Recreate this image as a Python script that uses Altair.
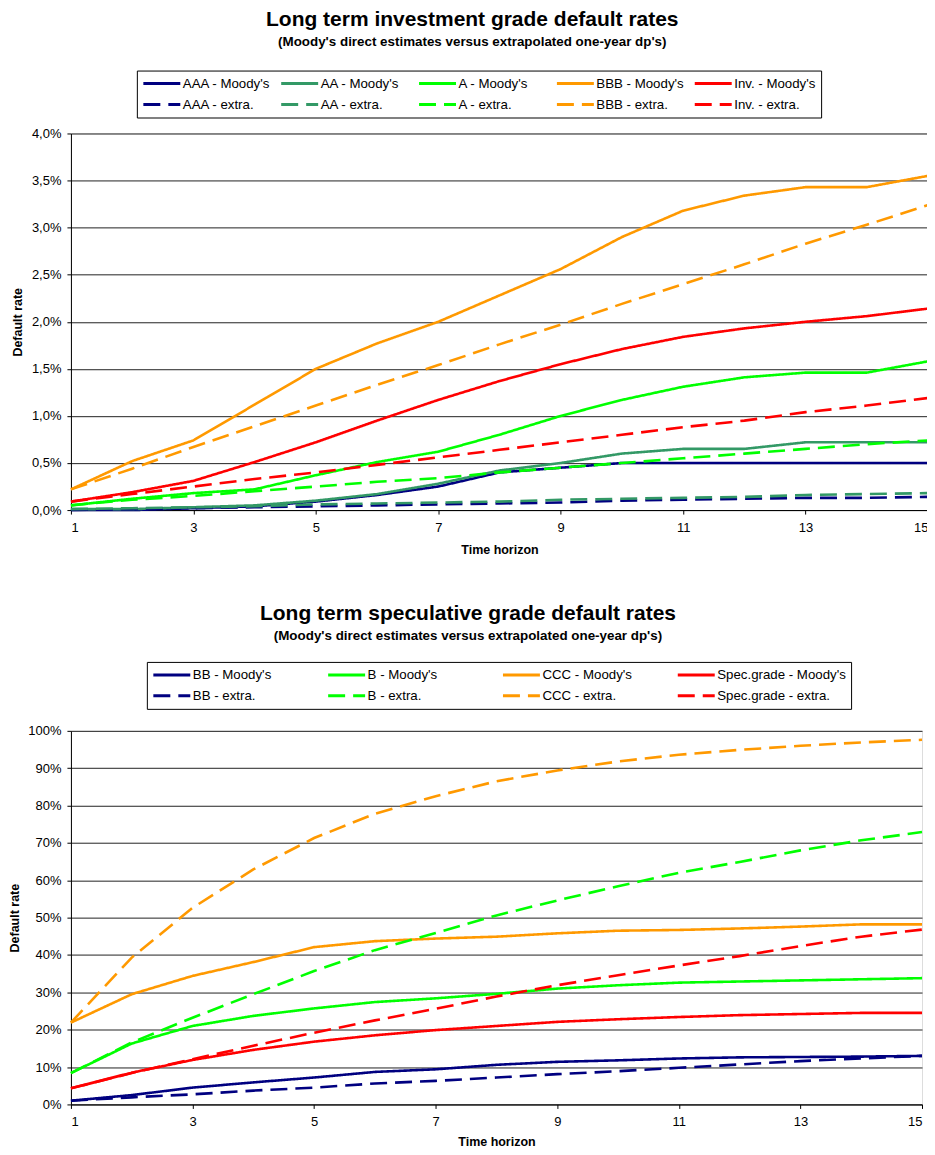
import altair as alt
import pandas as pd

years = list(range(1, 16))

# ---- Investment grade (values in %) ----
inv_series = ["AAA - Moody's", "AA - Moody's", "A - Moody's", "BBB - Moody's", "Inv. - Moody's",
              "AAA - extra.", "AA - extra.", "A - extra.", "BBB - extra.", "Inv. - extra."]
aaa_m = [0.00, 0.00, 0.02, 0.04, 0.09, 0.16, 0.25, 0.40, 0.45, 0.50, 0.50, 0.50, 0.50, 0.50, 0.50]
aa_m = [0.01, 0.01, 0.03, 0.05, 0.10, 0.17, 0.28, 0.42, 0.50, 0.60, 0.65, 0.65, 0.72, 0.72, 0.72]
a_m = [0.05, 0.12, 0.18, 0.22, 0.37, 0.51, 0.62, 0.80, 1.00, 1.17, 1.31, 1.41, 1.46, 1.46, 1.58]
bbb_m = [0.22, 0.52, 0.74, 1.12, 1.50, 1.77, 2.00, 2.28, 2.56, 2.90, 3.18, 3.34, 3.43, 3.43, 3.55]
inv_m = [0.09, 0.19, 0.31, 0.51, 0.72, 0.95, 1.17, 1.37, 1.55, 1.71, 1.84, 1.93, 2.00, 2.06, 2.14]
aaa_e = [0.00, 0.01, 0.02, 0.03, 0.04, 0.05, 0.06, 0.07, 0.08, 0.10, 0.11, 0.12, 0.13, 0.13, 0.14]
aa_e = [0.01, 0.02, 0.03, 0.04, 0.06, 0.07, 0.08, 0.09, 0.11, 0.12, 0.13, 0.14, 0.16, 0.17, 0.18]
a_e = [0.05, 0.11, 0.15, 0.20, 0.25, 0.30, 0.34, 0.40, 0.45, 0.50, 0.55, 0.60, 0.65, 0.70, 0.74]
bbb_e = [0.22, 0.44, 0.67, 0.89, 1.11, 1.33, 1.54, 1.76, 1.97, 2.19, 2.40, 2.61, 2.83, 3.03, 3.24]
inv_e = [0.09, 0.17, 0.25, 0.33, 0.40, 0.48, 0.56, 0.64, 0.72, 0.80, 0.88, 0.95, 1.04, 1.11, 1.19]
inv_values = [aaa_m, aa_m, a_m, bbb_m, inv_m, aaa_e, aa_e, a_e, bbb_e, inv_e]

# ---- Speculative grade (values in %) ----
spec_series = ["BB - Moody's", "B - Moody's", "CCC - Moody's", "Spec.grade - Moody's",
               "BB - extra.", "B - extra.", "CCC - extra.", "Spec.grade - extra."]
bb_m = [1.0, 2.5, 4.5, 5.9, 7.2, 8.7, 9.4, 10.6, 11.4, 11.8, 12.3, 12.6, 12.7, 12.8, 13.0]
b_m = [8.4, 16.3, 21.0, 23.7, 25.7, 27.4, 28.4, 29.6, 31.0, 31.9, 32.6, 32.9, 33.2, 33.5, 33.8]
ccc_m = [21.9, 29.5, 34.4, 38.1, 42.1, 43.7, 44.4, 44.9, 45.8, 46.5, 46.7, 47.1, 47.6, 48.2, 48.2]
spec_m = [4.3, 8.5, 11.9, 14.6, 16.8, 18.5, 19.9, 21.0, 22.1, 22.8, 23.4, 23.9, 24.2, 24.5, 24.5]
bb_e = [1.0, 1.9, 2.7, 3.7, 4.5, 5.6, 6.3, 7.2, 8.1, 8.9, 9.8, 10.7, 11.6, 12.3, 13.0]
b_e = [8.4, 16.6, 23.2, 29.5, 35.7, 41.3, 45.9, 50.6, 54.6, 58.4, 62.0, 64.9, 68.0, 70.7, 72.9]
ccc_e = [21.9, 39.3, 52.6, 62.9, 71.3, 77.8, 82.5, 86.5, 89.4, 91.8, 93.6, 94.9, 96.0, 96.9, 97.6]
spec_e = [4.3, 8.4, 12.1, 15.7, 19.2, 22.5, 25.6, 28.9, 31.9, 34.6, 37.2, 39.7, 42.4, 44.9, 46.8]
spec_values = [bb_m, b_m, ccc_m, spec_m, bb_e, b_e, ccc_e, spec_e]

inv_colors = ["#000080", "#339966", "#00FF00", "#FF9900", "#FF0000"] * 2
spec_colors = ["#000080", "#00FF00", "#FF9900", "#FF0000"] * 2
SOLID = [1, 0]
DASH = [17, 8]


def long_df(names, values):
    rows = []
    for n, vals in zip(names, values):
        for yr, v in zip(years, vals):
            rows.append({"year": yr, "rate": v / 100.0, "series": n})
    return pd.DataFrame(rows)


FONT = "Liberation Sans"
AX = dict(labelFont=FONT, titleFont=FONT, labelFontSize=13, titleFontSize=12.5, titleFontWeight="bold",
          labelColor="#000", titleColor="#000", domainColor="#000", tickColor="#000")


def make_panel(df, names, colors, ncols, ymax, ystep, yfmt_expr, w, h, lx, ly, colpad, xtpad, ytpad,
               toffset, title, subtitle):
    dashes = [SOLID] * ncols + [DASH] * ncols
    legend = alt.Legend(
        title=None, orient="none", legendX=lx, legendY=ly, direction="horizontal",
        columns=ncols, gridAlign="all", symbolType="stroke", symbolSize=1369, clipHeight=16,
        symbolStrokeWidth=3, labelFont=FONT, labelFontSize=13.3, labelColor="#000",
        strokeColor="#000", padding=5, rowPadding=5, columnPadding=colpad, labelOffset=1,
        fillColor="#fff", labelLimit=300,
    )
    yticks = [round(i * ystep, 6) for i in range(int(round(ymax / ystep)) + 1)]
    return alt.Chart(df).mark_line(strokeWidth=2.6).encode(
        x=alt.X("year:Q", scale=alt.Scale(domain=[1, 15], nice=False, zero=False),
                axis=alt.Axis(values=[1, 3, 5, 7, 9, 11, 13, 15], grid=False, title="Time horizon",
                              tickSize=4, labelPadding=7, titlePadding=xtpad, **AX)),
        y=alt.Y("rate:Q", scale=alt.Scale(domain=[0, ymax], nice=False),
                axis=alt.Axis(values=yticks, labelExpr=yfmt_expr, title="Default rate",
                              tickSize=4, labelPadding=6, titlePadding=ytpad,
                              gridColor="#222", gridWidth=1, gridOpacity=1, **AX)),
        color=alt.Color("series:N", scale=alt.Scale(domain=names, range=colors), legend=legend),
        strokeDash=alt.StrokeDash("series:N", scale=alt.Scale(domain=names, range=dashes), legend=legend),
        detail="series:N",
    ).properties(
        width=w, height=h,
        title=alt.TitleParams(text=title, subtitle=subtitle, font=FONT, fontSize=21, fontWeight="bold",
                              subtitleFont=FONT, subtitleFontSize=13.4, subtitleFontWeight="bold",
                              subtitleColor="#000", color="#000", anchor="middle", frame="bounds",
                              subtitlePadding=5, offset=toffset),
    )


top = make_panel(long_df(inv_series, inv_values), inv_series, inv_colors, 5, 0.04, 0.005,
                 "replace(format(datum.value, '.1%'), '.', ',')", 858, 377, 66, -63, 9, 9, 7, 22,
                 "Long term investment grade default rates",
                 "(Moody's direct estimates versus extrapolated one-year dp's)")
bottom = make_panel(long_df(spec_series, spec_values), spec_series, spec_colors, 4, 1.0, 0.1,
                    "format(datum.value, '.0%')", 852, 374, 76, -69, 5, 7, 6, 19,
                    "Long term speculative grade default rates",
                    "(Moody's direct estimates versus extrapolated one-year dp's)")

chart = alt.concat(top, bottom, columns=1, spacing=46, align="none").resolve_scale(
    color="independent", strokeDash="independent", x="independent", y="independent"
).configure_view(stroke="#808080", strokeWidth=1).configure(
    background="white", padding={"left": 0, "top": -1, "right": -7, "bottom": 0})

chart.save("out.html", embed_options={"renderer": "svg", "actions": False})
